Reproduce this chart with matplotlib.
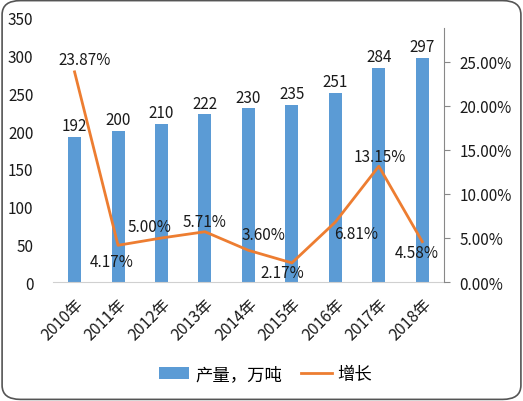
import matplotlib.pyplot as plt
from matplotlib.patches import FancyBboxPatch
from matplotlib.ticker import FuncFormatter

plt.rcParams['font.family'] = ['Noto Sans CJK SC', 'DejaVu Sans']

years = ['2010年', '2011年', '2012年', '2013年', '2014年', '2015年', '2016年', '2017年', '2018年']
output = [192, 200, 210, 222, 230, 235, 251, 284, 297]
growth = [23.87, 4.17, 5.00, 5.71, 3.60, 2.17, 6.81, 13.15, 4.58]

# label offsets (points) for the growth labels, placed by hand like the original
lab_off = [(7, 8.6), (-4.3, -11.5), (-8.6, 8.6), (0, 7.5), (10.8, 11.5),
           (-7, -7), (15, -8), (0.7, 7), (-4, -7.5)]

bar_c = '#5B9BD5'
line_c = '#ED7D31'
txt_c = '#1a1a1a'
fs = 11

fig = plt.figure(figsize=(5.23, 4.02), dpi=100)
frame = FancyBboxPatch((0.004, 0.004), 0.992, 0.992, boxstyle='round,pad=0,rounding_size=0.035',
                       transform=fig.transFigure, fc='white', ec='#555555', lw=1.2, zorder=-5)
fig.patches.append(frame)

ax = fig.add_axes([0.101, 0.296, 0.748, 0.657])
ax.patch.set_alpha(0)
x = range(len(years))
bars = ax.bar(x, output, width=0.3, color=bar_c, label='产量，万吨', zorder=2)
ax.set_xlim(-0.5, 8.5)
ax.set_ylim(0, 350)
ax.set_yticks(range(0, 351, 50))
for xi, v in zip(x, output):
    ax.annotate(str(v), (xi, v), xytext=(0, 2), textcoords='offset points',
                ha='center', va='bottom', fontsize=fs, color=txt_c)
ax.set_xticks(list(x))
ax.set_xticklabels(years, rotation=45, ha='right', va='top', rotation_mode='anchor', fontsize=11.5, color=txt_c)
ax.tick_params(axis='y', length=0, labelsize=fs, labelcolor=txt_c, pad=14)
ax.tick_params(axis='x', length=0, pad=9)
for s in ['top', 'right', 'left']:
    ax.spines[s].set_visible(False)
ax.spines['bottom'].set_color('#d0d0d0')

ax2 = ax.twinx()
g = [v / 100 for v in growth]
ln, = ax2.plot(x, g, color=line_c, lw=2, label='增长', zorder=3)
ax2.set_ylim(0, 0.30)
ax2.set_yticks([0, 0.05, 0.10, 0.15, 0.20, 0.25])
ax2.yaxis.set_major_formatter(FuncFormatter(lambda v, p: f'{v*100:.2f}%'))
ax2.tick_params(axis='y', length=4, color='#888888', labelsize=fs, labelcolor=txt_c, pad=7)
for s in ['top', 'left', 'bottom']:
    ax2.spines[s].set_visible(False)
ax2.spines['right'].set_color('#888888')
ax2.spines['right'].set_bounds(0, 0.2885)
for xi, v, gv, off in zip(x, growth, g, lab_off):
    ax2.annotate(f'{v:.2f}%', (xi, gv), xytext=off, textcoords='offset points',
                 ha='center', va='center', fontsize=fs, color=txt_c)

fig.legend([bars, ln], ['产量，万吨', '增长'], loc='center', bbox_to_anchor=(0.508, 0.068),
           ncol=2, frameon=False, fontsize=12.5, handlelength=1.75, handletextpad=0.35,
           columnspacing=1.1)

plt.savefig('out.png', dpi=100)
